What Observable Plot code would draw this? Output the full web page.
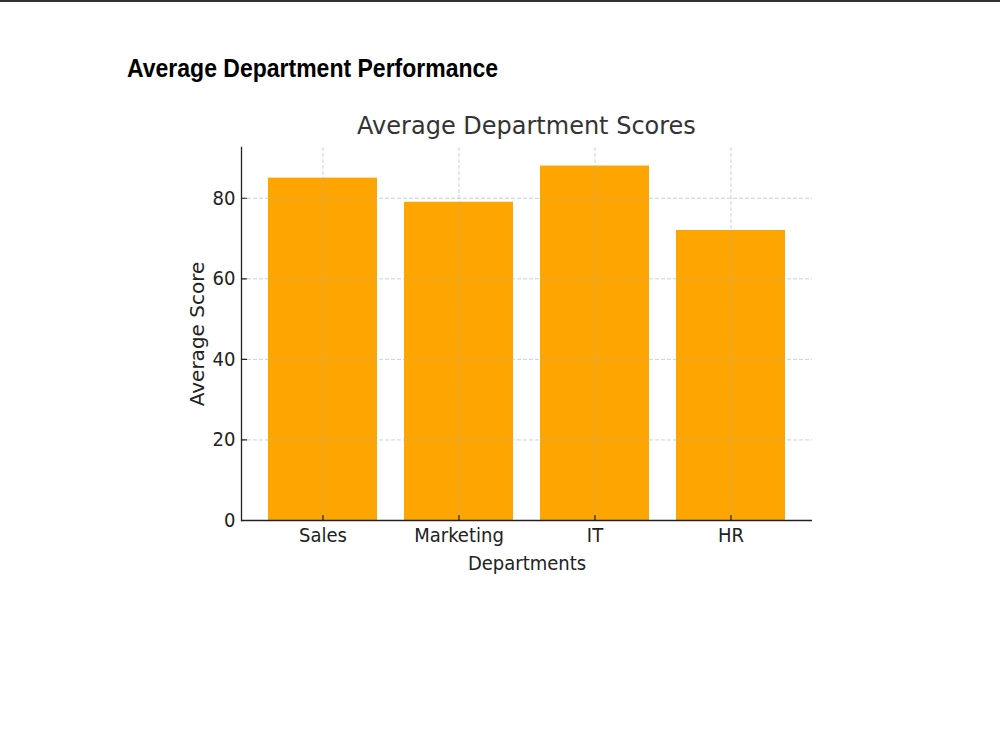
<!DOCTYPE html>
<html>
<head>
<meta charset="utf-8">
<script src="https://cdn.jsdelivr.net/npm/d3@7"></script>
<script src="https://cdn.jsdelivr.net/npm/@observablehq/plot@0.6"></script>
<style>
  html, body { margin: 0; padding: 0; background: #fff; }
  body { width: 1000px; height: 750px; position: relative; overflow: hidden; border-top: 2px solid #333; box-sizing: border-box; }
  #heading { position: absolute; left: 127px; top: 52px; font-family: "Liberation Sans", Arial, sans-serif; font-weight: bold; font-size: 23px; line-height: normal; color: #000; transform: scaleY(1.09); transform-origin: 0 0; white-space: nowrap; }
  #title { position: absolute; left: 241px; width: 571px; top: 110px; text-align: center; font-family: "DejaVu Sans", sans-serif; font-size: 24px; line-height: normal; color: #333; white-space: nowrap; }
  #chart { position: absolute; left: 0; top: -2px; }
</style>
</head>
<body>
<div id="heading">Average Department Performance</div>
<div id="title">Average Department Scores</div>
<div id="chart"></div>
<script>
const departments = ["Sales", "Marketing", "IT", "HR"];
const scores = [85, 79, 88, 72];
const yTicks = [0, 20, 40, 60, 80];

const data = departments.map((d, i) => ({department: d, score: scores[i]}));
const tickFont = "'DejaVu Sans Condensed', 'DejaVu Sans', sans-serif";

const chart = Plot.plot({
  width: 1000,
  height: 750,
  marginLeft: 241,
  marginRight: 188,
  marginTop: 147,
  marginBottom: 230,
  style: {fontFamily: "DejaVu Sans, sans-serif", color: "#222", background: "transparent", overflow: "visible"},
  x: {domain: departments, paddingInner: 0.2, paddingOuter: 0.19, label: null},
  y: {domain: [0, 92.6], ticks: yTicks, label: null},
  marks: [
    Plot.barY(data, {x: "department", y: "score", fill: "#FFA500"}),
    Plot.gridY(yTicks, {stroke: "#b0b0b0", strokeOpacity: 0.75, strokeDasharray: "4,2", strokeWidth: 0.8}),
    Plot.gridX(departments, {stroke: "#b0b0b0", strokeOpacity: 0.75, strokeDasharray: "4,2", strokeWidth: 0.8}),
    Plot.frame({anchor: "left", stroke: "#222", strokeWidth: 1.3}),
    Plot.ruleY([0], {stroke: "#222", strokeWidth: 1.3}),
    // inward tick marks
    Plot.vector(departments, {x: d => d, y: 0, length: 5, rotate: 0, anchor: "start", stroke: "#222", strokeWidth: 1.2, shape: {draw(context, l) { context.moveTo(0, 0); context.lineTo(0, -l); }}}),
    Plot.vector(yTicks, {y: d => d, frameAnchor: "left", length: 5, rotate: 90, anchor: "start", stroke: "#222", strokeWidth: 1.2, shape: {draw(context, l) { context.moveTo(0, 0); context.lineTo(0, -l); }}}),
    Plot.axisY(yTicks, {tickSize: 0, tickPadding: 6, fontSize: 20, fontFamily: tickFont, fill: "#222", label: null}),
    Plot.axisX({tickSize: 0, tickPadding: 7, fontSize: 20, fontFamily: tickFont, fill: "#222", label: null}),
    Plot.text(["Departments"], {frameAnchor: "bottom", lineAnchor: "top", dy: 35, fontSize: 20, fontFamily: tickFont, fill: "#222"}),
    Plot.text(["Average Score"], {frameAnchor: "left", textAnchor: "middle", dx: -44, rotate: -90, fontSize: 20, fill: "#222"})
  ]
});
document.getElementById("chart").appendChild(chart);
</script>
</body>
</html>
